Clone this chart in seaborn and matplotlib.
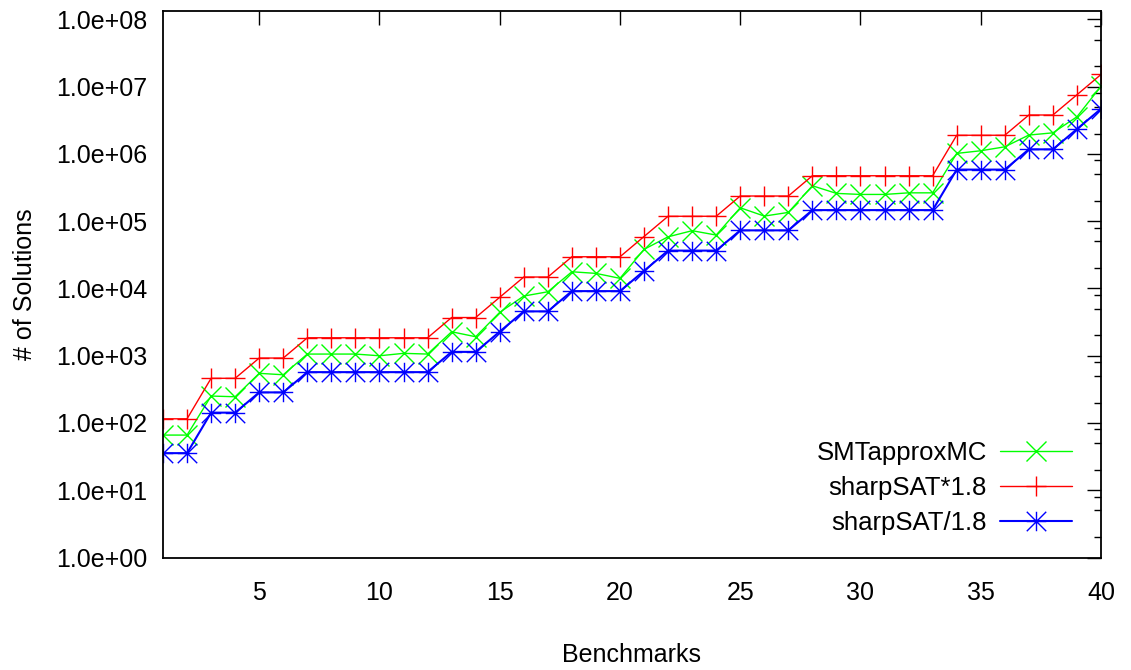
import numpy as np
import pandas as pd
import matplotlib
matplotlib.use("Agg")
import matplotlib.pyplot as plt
from matplotlib.path import Path
from matplotlib.ticker import FixedLocator, LogLocator, FuncFormatter, NullFormatter
import seaborn as sns

# Benchmark index and model counts
benchmarks = list(range(1, 41))
smtapproxmc = [66, 66, 251, 245, 546, 520, 1056, 1056, 1056, 996,
               1082, 1056, 2265, 1910, 4400, 7690, 8900, 17650, 16700, 14100,
               38000, 58400, 72000, 62000, 157700, 118700, 134600, 335000, 258000, 249000,
               249000, 263000, 263000, 1014000, 1110000, 1270000, 1900000, 2050000, 3550000, 10100000]
sharpsat = [64, 64, 256, 256, 512, 512, 1024, 1024, 1024, 1024,
            1024, 1024, 2048, 2048, 4096, 8192, 8192, 16384, 16384, 16384,
            32768, 65536, 65536, 65536, 131072, 131072, 131072, 262144, 262144, 262144,
            262144, 262144, 262144, 1048576, 1048576, 1048576, 2097152, 2097152, 4194304, 8388608]
tolerance = 1.8
series_labels = ["SMTapproxMC", "sharpSAT*1.8", "sharpSAT/1.8"]
x_ticks = [5, 10, 15, 20, 25, 30, 35, 40]

upper = [v * tolerance for v in sharpsat]
lower = [v / tolerance for v in sharpsat]

sns.set_theme(style="white")
plt.rcParams["font.family"] = ["Liberation Sans", "DejaVu Sans"]
plt.rcParams["font.size"] = 18
plt.rcParams["text.color"] = "black"
plt.rcParams["axes.labelcolor"] = "black"
plt.rcParams["xtick.color"] = "black"
plt.rcParams["ytick.color"] = "black"

# gnuplot-style asterisk: a plus and a cross laid over each other
_star_verts = [(-1, 0), (1, 0), (0, -1), (0, 1), (-1, -1), (1, 1), (-1, 1), (1, -1)]
_star_codes = [Path.MOVETO, Path.LINETO] * 4
asterisk = Path(_star_verts, _star_codes)

W, H = 1131, 670
fig = plt.figure(figsize=(W / 100, H / 100), dpi=100)
left, right, top, bottom = 163, 1101, 10.5, 557.5
ax = fig.add_axes([left / W, (H - bottom) / H, (right - left) / W, (bottom - top) / H])

styles = [
    (smtapproxmc, "#00ff00", "x", 1.0, 15),
    (upper, "#ff0000", "+", 1.0, 15),
    (lower, "#0000ff", asterisk, 1.5, 14),
]
for (vals, color, marker, lw, ms), label in zip(styles, series_labels):
    sns.lineplot(x=benchmarks, y=vals, ax=ax, color=color, marker=marker,
                 markersize=ms, markeredgewidth=1.0, markerfacecolor="none",
                 markeredgecolor=color, linewidth=lw, label=label)

ax.set_yscale("log")
ax.set_xlim(1, 40)
ax.set_ylim(1, 10 ** 8.13)

ax.xaxis.set_major_locator(FixedLocator(x_ticks))
ax.yaxis.set_major_locator(LogLocator(base=10, numticks=20))
ax.yaxis.set_minor_locator(LogLocator(base=10, subs=[2, 5, 8], numticks=20))
ax.yaxis.set_major_formatter(FuncFormatter(lambda v, p: f"{v:.1e}"))
ax.yaxis.set_minor_formatter(NullFormatter())

ax.tick_params(which="both", direction="in", top=True, right=True, colors="black",
               labelcolor="black", labelsize=18)
ax.tick_params(which="major", length=10, width=1)
ax.tick_params(which="minor", length=5, width=1)
ax.tick_params(axis="x", which="major", pad=17)
ax.tick_params(axis="y", which="major", pad=11)

for s in ax.spines.values():
    s.set_color("black")
    s.set_linewidth(1.3)

ax.set_xlabel("Benchmarks", fontsize=18, labelpad=27, color="black")
ax.set_ylabel("# of Solutions", fontsize=18, labelpad=14, color="black")

ax.legend(loc="lower right", bbox_to_anchor=(0.969, 0.042), frameon=False,
          markerfirst=False, handlelength=2.8, handletextpad=0.5,
          labelspacing=0.42, borderpad=0, borderaxespad=0, numpoints=1,
          fontsize=18.5, labelcolor="black")

fig.savefig("out.png", dpi=100, facecolor="white")
